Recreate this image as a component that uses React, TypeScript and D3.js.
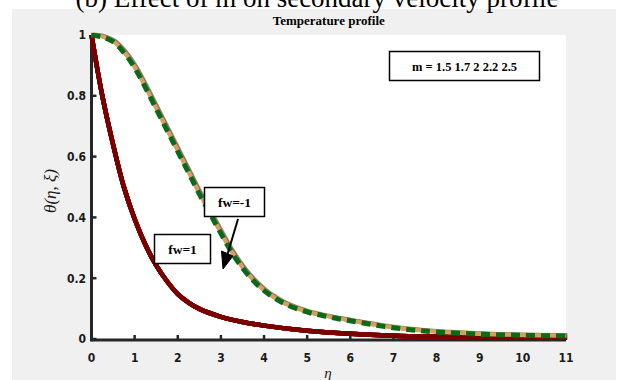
import React from "react";
import * as d3 from "d3";

const etaFwPos = [0, 0.25, 0.5, 0.75, 1, 1.25, 1.5, 1.75, 2, 2.25, 2.5, 3, 3.5, 4, 5, 6, 7, 8, 9, 10, 11];
const thetaFwPos = [1, 0.8, 0.64, 0.5, 0.395, 0.31, 0.242, 0.19, 0.148, 0.12, 0.099, 0.073, 0.056, 0.044, 0.027, 0.017, 0.011, 0.008, 0.006, 0.005, 0.004];

const etaFwNeg = [0, 0.25, 0.5, 0.75, 1, 1.25, 1.5, 1.75, 2, 2.25, 2.5, 2.75, 3, 3.25, 3.5, 3.75, 4, 4.25, 4.5, 5, 5.5, 6, 6.5, 7, 7.5, 8, 9, 10, 11];
const thetaFwNeg = [1, 0.995, 0.98, 0.945, 0.895, 0.83, 0.76, 0.69, 0.62, 0.55, 0.48, 0.415, 0.35, 0.288, 0.236, 0.194, 0.161, 0.136, 0.116, 0.09, 0.074, 0.061, 0.049, 0.038, 0.03, 0.024, 0.017, 0.013, 0.011];

const mValues = ["1.5", "1.7", "2", "2.2", "2.5"];
const xTicks = [0, 1, 2, 3, 4, 5, 6, 7, 8, 9, 10, 11];
const yTicks = [0, 0.2, 0.4, 0.6, 0.8, 1];

// style per m for the fw = -1 family (bottom to top)
const negStyles = [
  { color: "#8fd14f", width: 4, dash: "none", dx: 1.6, dy: -0.6 },
  { color: "#a14aa8", width: 4, dash: "none", dx: 1.0, dy: -0.3 },
  { color: "#c0504d", width: 4, dash: "3 10", dx: 0.3, dy: 0 },
  { color: "#d2a25c", width: 4.2, dash: "none", dx: 0, dy: 0 },
  { color: "#0a6a1a", width: 5, dash: "9 6", dx: -0.3, dy: 0.3 },
];

export default function App() {
  const W = 626, H = 380;
  const x = d3.scaleLinear().domain([0, 11]).range([91.5, 566]);
  const y = d3.scaleLinear().domain([0, 1]).range([339, 35]);
  const line = d3
    .line<[number, number]>()
    .x((d) => x(d[0]))
    .y((d) => y(d[1]))
    .curve(d3.curveCatmullRom.alpha(0.5));
  const posPts: [number, number][] = etaFwPos.map((e, i) => [e, thetaFwPos[i]]);
  const negPts: [number, number][] = etaFwNeg.map((e, i) => [e, thetaFwNeg[i]]);
  const axisColor = "#262626";
  const tickFont = "'DejaVu Sans Condensed', 'DejaVu Sans', sans-serif";
  const serif = "'Liberation Serif', 'DejaVu Serif', serif";

  return (
    <svg width={W} height={H} style={{ position: "absolute", left: 0, top: 0 }}>
      <rect x={0} y={0} width={W} height={H} fill="#ffffff" />
      <rect x={12} y={9} width={604} height={H - 9} fill="#f0f0f0" />
      <text x={317} y={6.5} textAnchor="middle" fontFamily={serif} fontSize={27} fill="#000">
        (b) Effect of m on secondary velocity profile
      </text>
      <rect x={x(0)} y={y(1)} width={x(11) - x(0)} height={y(0) - y(1)} fill="#ffffff" />
      <text x={(x(0) + x(11)) / 2} y={24.5} textAnchor="middle" fontFamily={serif} fontWeight="bold" fontSize={13} fill="#000">
        Temperature profile
      </text>

      {/* axes */}
      <line x1={x(0)} x2={x(11)} y1={340} y2={340} stroke={axisColor} strokeWidth={3} />
      <line x1={x(0)} x2={x(0)} y1={y(1)} y2={341.5} stroke={axisColor} strokeWidth={3} />
      {xTicks.map((t) => (
        <g key={"xt" + t}>
          <line x1={x(t)} x2={x(t)} y1={340} y2={335} stroke={axisColor} strokeWidth={2.5} />
          <text x={x(t)} y={362} textAnchor="middle" fontFamily={tickFont} fontStretch="condensed" fontWeight="bold" fontSize={12} fill="#1a1a1a">
            {t}
          </text>
        </g>
      ))}
      {yTicks.map((t) => (
        <g key={"yt" + t}>
          <line x1={x(0)} x2={x(0) + 5} y1={y(t)} y2={y(t)} stroke={axisColor} strokeWidth={2.5} />
          <text x={86} y={y(t)} dy="0.36em" textAnchor="end" fontFamily={tickFont} fontStretch="condensed" fontWeight="bold" fontSize={12} fill="#1a1a1a">
            {t}
          </text>
        </g>
      ))}
      <text x={328} y={378} textAnchor="middle" fontFamily={serif} fontStyle="italic" fontSize={15} fill="#1a1a1a">
        η
      </text>
      <text transform="translate(56,191) rotate(-90)" textAnchor="middle" fontFamily={serif} fontStyle="italic" fontSize={17} fill="#1a1a1a">
        θ(η, ξ)
      </text>

      {/* fw = 1 curves */}
      {mValues.map((m) => (
        <path key={"pos" + m} d={line(posPts) || ""} fill="none" stroke="#7a0000" strokeWidth={4.5} />
      ))}
      {/* fw = -1 curves */}
      {mValues.map((m, i) => (
        <path
          key={"neg" + m}
          d={line(negPts) || ""}
          transform={`translate(${negStyles[i].dx},${negStyles[i].dy})`}
          fill="none"
          stroke={negStyles[i].color}
          strokeWidth={negStyles[i].width}
          strokeDasharray={negStyles[i].dash}
        />
      ))}

      {/* legend */}
      <rect x={389.5} y={51.5} width={150} height={29} fill="#ffffff" stroke="#000" strokeWidth={1.5} />
      <text x={464.5} y={70.5} textAnchor="middle" fontFamily={serif} fontWeight="bold" fontSize={12.5} fill="#000">
        m = {mValues.join(" ")}
      </text>

      {/* annotations */}
      <rect x={204.5} y={187.5} width={60} height={29} fill="#ffffff" stroke="#000" strokeWidth={1.5} />
      <text x={234.5} y={207} textAnchor="middle" fontFamily={serif} fontWeight="bold" fontSize={13.5} fill="#000">
        fw=-1
      </text>
      <rect x={154.5} y={234.5} width={56} height={29} fill="#ffffff" stroke="#000" strokeWidth={1.5} />
      <text x={182.5} y={254} textAnchor="middle" fontFamily={serif} fontWeight="bold" fontSize={13.5} fill="#000">
        fw=1
      </text>
      <line x1={238} y1={219} x2={227} y2={256} stroke="#000" strokeWidth={2} />
      <path d="M223,269 L221.5,251 L233,256 Z" fill="#000" stroke="#000" strokeWidth={1} />
    </svg>
  );
}
